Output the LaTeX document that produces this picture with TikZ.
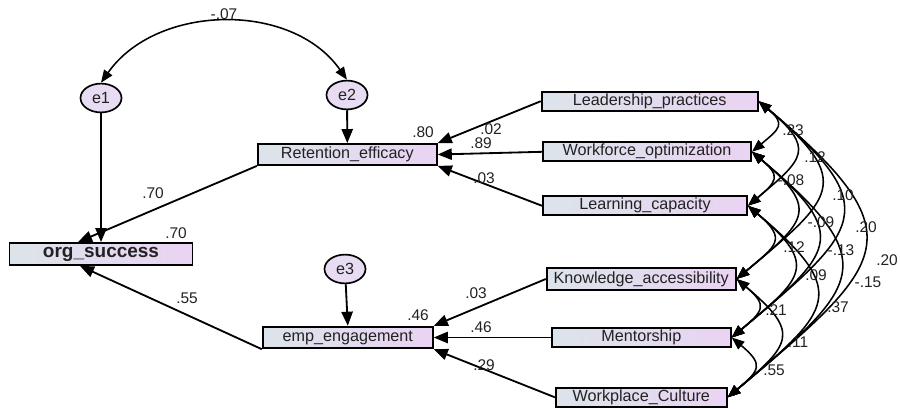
\documentclass[tikz,border=0pt]{standalone}
\usepackage{fontspec}
\setmainfont{Liberation Sans}
\usetikzlibrary{arrows.meta,shapes.geometric}
\definecolor{boxL}{HTML}{DCE4EA}
\definecolor{boxR}{HTML}{EAD3F3}
\definecolor{errF}{HTML}{E8DCF2}
\definecolor{txt}{HTML}{222222}
\begin{document}
\begin{tikzpicture}[x=0.025cm,y=-0.025cm,
  obs/.style={draw=black, line width=1.3pt, left color=boxL, right color=boxR, inner sep=0pt, font=\fontsize{11.5}{13}\selectfont, text=txt},
  err/.style={ellipse, draw=black, line width=1.2pt, fill=errF, minimum width=1.025cm, minimum height=0.72cm, inner sep=0pt, font=\fontsize{11.5}{13}\selectfont, text=txt},
  pth/.style={line width=1.3pt, -{Triangle[length=10pt,width=8pt]}},
  cov/.style={line width=1.1pt, {Triangle[length=9pt,width=7pt]}-{Triangle[length=9pt,width=7pt]}},
  arc/.style={cov, out=-40, in=40, looseness=1.8},
  lab/.style={font=\fontsize{11}{13}\selectfont, inner sep=0pt, text=txt}]
\fill[white] (0,0) rectangle (900,408);
\useasboundingbox (0,0) rectangle (900,408);

% error terms
\node[err] (e1) at (101,98) {e1};
\node[err] (e2) at (347,95) {e2};
\node[err] (e3) at (345,269) {e3};

% endogenous
\node[obs, minimum width=4.575cm, minimum height=0.55cm, font=\bfseries\fontsize{13.5}{15}\selectfont] (org) at (101,254) {org\_success};
\node[obs, minimum width=4.475cm, minimum height=0.525cm] (ret) at (347.3,154.5) {Retention\_efficacy};
\node[obs, minimum width=4.25cm, minimum height=0.54cm] (emp) at (347.8,337.5) {emp\_engagement};

% exogenous
\node[obs, minimum width=5.4cm, minimum height=0.475cm] (L) at (649.7,101.2) {Leadership\_practices};
\node[obs, minimum width=5.2cm, minimum height=0.47cm] (W) at (647,151.8) {Workforce\_optimization};
\node[obs, minimum width=5.1cm, minimum height=0.47cm] (Lc) at (645,205.8) {Learning\_capacity};
\node[obs, minimum width=4.725cm, minimum height=0.53cm] (K) at (641.2,279) {Knowledge\_accessibility};
\node[obs, minimum width=4.475cm, minimum height=0.475cm] (M) at (641.3,337.5) {Mentorship};
\node[obs, minimum width=4.275cm, minimum height=0.47cm] (Wc) at (641.3,397.3) {Workplace\_Culture};

% paths
\draw[pth] (e1) -- (org.north);
\draw[pth] (e2) -- (ret.north);
\draw[pth] (e3) -- (emp.north);
\draw[pth] (ret.south west) -- ([xshift=-0.575cm]org.north);
\draw[pth] (emp.south west) -- ([xshift=-0.525cm]org.south);
\draw[pth] (L.west) -- (ret.north east);
\draw[pth] (W.west) -- (ret.east);
\draw[pth] (Lc.west) -- (ret.south east);
\draw[pth] (K.west) -- (emp.north east);
\draw[pth] (M.west) -- (emp.east);
\draw[pth] (Wc.west) -- (emp.south east);

% error covariance
\draw[cov] (e1.north) to[out=55, in=125, looseness=1] (e2.north);

% exogenous covariances
\draw[arc] (L.east) to (W.east);
\draw[arc] (L.east) to (Lc.east);
\draw[arc] (L.east) to (K.east);
\draw[arc] (L.east) to (M.east);
\draw[arc] (L.east) to (Wc.east);
\draw[arc] (W.east) to (Lc.east);
\draw[arc] (W.east) to (K.east);
\draw[arc] (W.east) to (M.east);
\draw[arc] (W.east) to (Wc.east);
\draw[arc] (Lc.east) to (K.east);
\draw[arc] (Lc.east) to (M.east);
\draw[arc] (Lc.east) to (Wc.east);
\draw[arc] (K.east) to (M.east);
\draw[arc] (K.east) to (Wc.east);
\draw[arc] (M.east) to (Wc.east);

% labels
\node[lab] (l01) at (224,14) {-.07};
\node[lab] (l02) at (423,132) {.80};
\node[lab] (l03) at (176,233) {.70};
\node[lab] (l04) at (418,315) {.46};
\node[lab] (l05) at (153,193) {.70};
\node[lab] (l06) at (187,298) {.55};
\node[lab] (l07) at (491,129) {.02};
\node[lab] (l08) at (481,143) {.89};
\node[lab] (l09) at (484,178) {.03};
\node[lab] (l10) at (476,293) {.03};
\node[lab] (l11) at (481,327) {.46};
\node[lab] (l12) at (484,365) {.29};

\node[lab] (c01) at (793,130) {.23};
\node[lab] (c02) at (815,157) {.12};
\node[lab] (c03) at (791,180) {-.08};
\node[lab] (c04) at (843,195) {.10};
\node[lab] (c05) at (821,222) {-.09};
\node[lab] (c06) at (866,227) {.20};
\node[lab] (c07) at (794,247) {.12};
\node[lab] (c08) at (841,250) {-.13};
\node[lab] (c09) at (887,260) {.20};
\node[lab] (c10) at (816,275) {.09};
\node[lab] (c11) at (868,282) {-.15};
\node[lab] (c12) at (776,310) {.21};
\node[lab] (c13) at (838,307) {.37};
\node[lab] (c14) at (798,342) {.11};
\node[lab] (c15) at (774,370) {.55};
\end{tikzpicture}
\end{document}
